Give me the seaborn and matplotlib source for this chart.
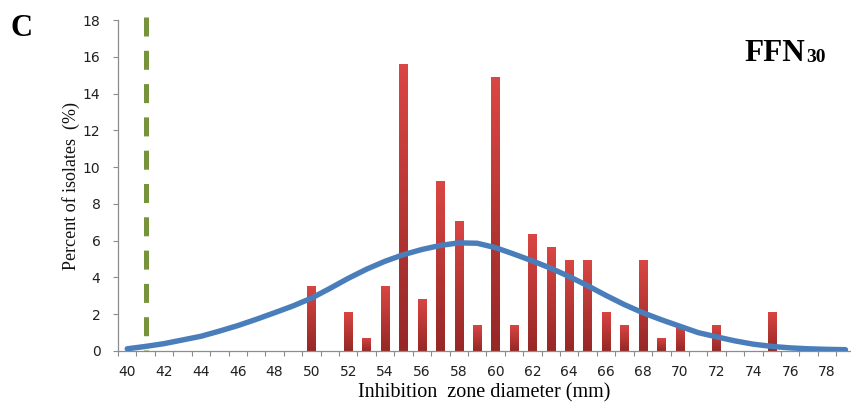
import numpy as np
import matplotlib
matplotlib.use("Agg")
import matplotlib.pyplot as plt
from matplotlib.colors import LinearSegmentedColormap
from matplotlib.ticker import MultipleLocator
import seaborn as sns

# inhibition zone diameters (mm) and percent of isolates
bar_x = [50, 52, 53, 54, 55, 56, 57, 58, 59, 60, 61, 62, 63, 64, 65,
         66, 67, 68, 69, 70, 72, 75]
bar_pct = [3.55, 2.13, 0.71, 3.55, 15.6, 2.84, 9.22, 7.09, 1.42, 14.9,
           1.42, 6.38, 5.67, 4.96, 4.96, 2.13, 1.42, 4.96, 0.71, 1.42,
           1.42, 2.13]

# fitted distribution curve
curve_x = list(range(40, 80))
curve_y = [0.12, 0.25, 0.40, 0.60, 0.80, 1.08, 1.38, 1.72, 2.08, 2.45,
           2.87, 3.40, 3.95, 4.45, 4.88, 5.24, 5.52, 5.74, 5.88, 5.86,
           5.62, 5.27, 4.90, 4.50, 4.05, 3.55, 3.02, 2.52, 2.08, 1.70,
           1.35, 1.00, 0.77, 0.55, 0.37, 0.25, 0.17, 0.12, 0.09, 0.07]

cutoff_mm = 41
x_ticks = list(range(40, 80, 2))
y_ticks = list(range(0, 20, 2))

sns.set_style("white")
plt.rcParams['font.family'] = ['DejaVu Sans']

fig = plt.figure(figsize=(8.51, 4.08), dpi=100)
ax = fig.add_axes([118 / 851, 57 / 408, 1 - 118 / 851, 331 / 408])

sns.barplot(x=bar_x, y=bar_pct, native_scale=True, width=0.45,
            color="#c0393a", errorbar=None, ax=ax, zorder=2)

# gradient fill for the bars, like the original spreadsheet chart
red_cmap = LinearSegmentedColormap.from_list("reds", ["#962826", "#da4643"])
grad = np.linspace(0, 1, 64).reshape(-1, 1)
for p in ax.patches:
    x0, y0 = p.get_x(), p.get_y()
    w, h = p.get_width(), p.get_height()
    im = ax.imshow(grad, extent=[x0, x0 + w, y0, y0 + h], origin="lower",
                   aspect="auto", cmap=red_cmap, zorder=2.1)
    im.set_clip_path(p)

# resistance breakpoint
ax.plot([cutoff_mm, cutoff_mm], [18.15, 0], color="#77933c", lw=3.6,
        linestyle=(0, (3.8, 2.86)), zorder=3, clip_on=False)

sns.lineplot(x=curve_x, y=curve_y, color="#4a7ebb", lw=3.9, ax=ax,
             zorder=4, solid_capstyle="round", solid_joinstyle="round")

ax.set_xlim(39.5, 79.3)
ax.set_ylim(0, 18)
ax.set_aspect("auto")
ax.set_xticks(x_ticks)
ax.set_xticklabels([str(v) for v in x_ticks])
ax.xaxis.set_minor_locator(MultipleLocator(1, offset=0.5))
ax.set_yticks(y_ticks)

for side in ["top", "right"]:
    ax.spines[side].set_visible(False)
for side in ["left", "bottom"]:
    ax.spines[side].set_color("#8c8c8c")
    ax.spines[side].set_linewidth(0.9)

ax.tick_params(axis="x", which="major", length=0, pad=10,
               labelsize=10, labelcolor="#202020")
ax.tick_params(axis="x", which="minor", length=3.6, width=0.8,
               color="#8c8c8c", direction="out", bottom=True)
ax.tick_params(axis="y", which="major", length=3.6, width=0.8,
               color="#8c8c8c", direction="out", left=True, pad=9,
               labelsize=10, labelcolor="#202020")

ax.set_xlabel("Inhibition  zone diameter (mm)", family="Liberation Serif",
              fontsize=14.5, labelpad=3, color="black")
ax.set_ylabel("Percent of isolates  (%)", family="Liberation Serif",
              fontsize=13, labelpad=2, color="#111111")

fig.text(11 / 851, 1 - 36 / 408, "C", family="Liberation Serif",
         fontsize=22, fontweight="bold", color="black")
fig.text(744 / 851, 1 - 61 / 408, "FFN", family="Liberation Serif",
         fontsize=22.5, fontweight="bold", color="black")
fig.text(806 / 851, 1 - 62 / 408, "30", family="Liberation Serif",
         fontsize=14, fontweight="bold", color="black")

fig.savefig("out.png", dpi=100)
